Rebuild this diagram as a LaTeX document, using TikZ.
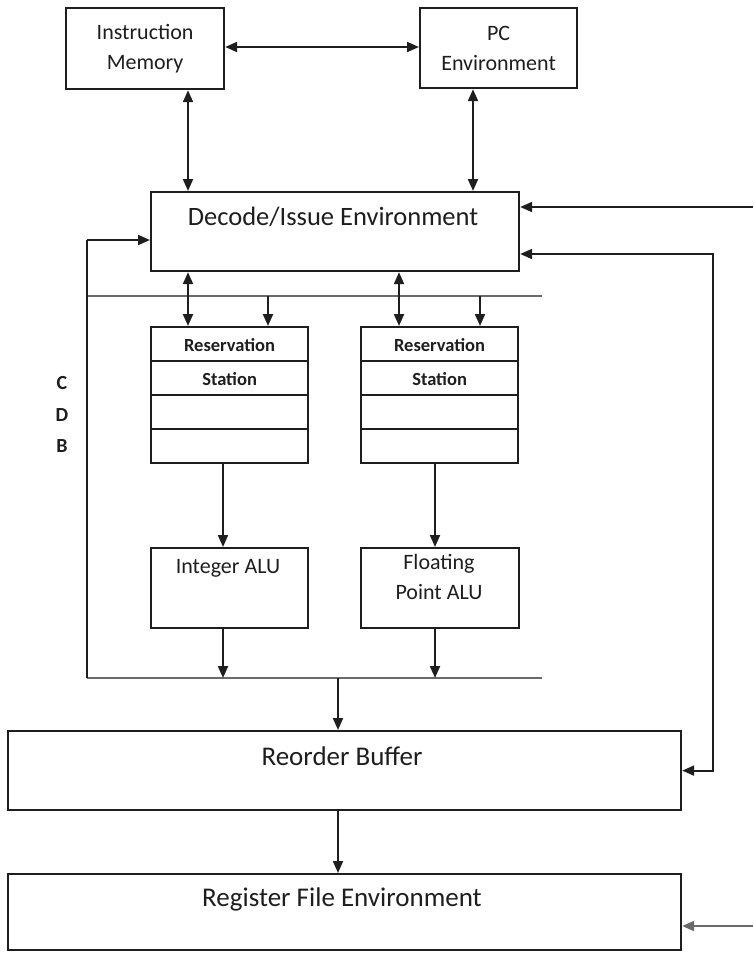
\documentclass[tikz,border=0pt]{standalone}
\usepackage{fontspec}
\setmainfont{Carlito}
\usetikzlibrary{arrows.meta}

\definecolor{ink}{HTML}{1E1E1E}
\definecolor{busgray}{HTML}{6A6A6A}

\tikzset{
  x=1pt, y=-1pt,
  box/.style={draw=ink, line width=2.2pt, rectangle, inner sep=0pt, anchor=north west},
  lbl/.style={text=ink, align=center, inner sep=0pt},
  arr/.style={draw=ink, line width=2pt, -{Triangle[length=12pt,width=10pt]}},
  darr/.style={draw=ink, line width=2pt, {Triangle[length=12pt,width=10pt]}-{Triangle[length=12pt,width=10pt]}},
  bus/.style={draw=busgray, line width=2.8pt},
  smallf/.style={font=\fontsize{22}{30}\selectfont},
  bigf/.style={font=\fontsize{27}{32}\selectfont},
  rsf/.style={font=\bfseries\fontsize{18.5}{22}\selectfont},
  cdbf/.style={font=\bfseries\fontsize{20}{24}\selectfont},
}

\begin{document}
\begin{tikzpicture}
\useasboundingbox[fill=white] (0,0) rectangle (753,953);

% top row
\node[box, minimum width=158pt, minimum height=81pt, lbl, smallf] (im) at (65,7) {Instruction\\Memory};
\node[box, minimum width=157pt, minimum height=80pt, lbl, smallf] (pc) at (419,7) {PC\\Environment};

% decode / issue
\node[box, minimum width=368pt, minimum height=79pt] (dec) at (150,191) {};
\node[lbl, font=\fontsize{26.5}{30}\selectfont] (dect) at (333,217) {Decode/Issue Environment};

% reservation stations (four rows each)
\foreach \n/\x in {a/150, b/360}{
  \node[box, minimum width=157pt, minimum height=34pt] (rs\n1) at (\x,326) {};
  \node[box, minimum width=157pt, minimum height=34pt] (rs\n2) at (\x,360) {};
  \node[box, minimum width=157pt, minimum height=34pt] (rs\n3) at (\x,394) {};
  \node[box, minimum width=157pt, minimum height=34pt] (rs\n4) at (\x,428) {};
}
\node[lbl, rsf] (rsa1t) at ([yshift=-1pt]rsa1.center) {Reservation};
\node[lbl, rsf] (rsa2t) at ([yshift=-1pt]rsa2.center) {Station};
\node[lbl, rsf] (rsb1t) at ([yshift=-1pt]rsb1.center) {Reservation};
\node[lbl, rsf] (rsb2t) at ([yshift=-1pt]rsb2.center) {Station};

% execution units
\node[box, minimum width=157pt, minimum height=80pt] (ialu) at (150,547) {};
\node[lbl, smallf] (ialut) at (228,568) {Integer ALU};
\node[box, minimum width=158pt, minimum height=80pt] (falu) at (360,547) {};
\node[lbl, smallf, anchor=north] (falut) at (439,554) {Floating\\Point ALU};

% reorder buffer and register file
\node[box, minimum width=673pt, minimum height=79pt] (rob) at (7,730) {};
\node[lbl, bigf] (robt) at (342,756) {Reorder Buffer};
\node[box, minimum width=673pt, minimum height=76pt] (rf) at (7,873) {};
\node[lbl, bigf] (rft) at (342,899) {Register File Environment};

% CDB label
\node[lbl, cdbf] (cc) at (62,383) {C};
\node[lbl, cdbf] (cd) at (62,415) {D};
\node[lbl, cdbf] (cb) at (62,446) {B};

% bus coordinates
\coordinate (tbl) at (87,296);
\coordinate (tbr) at (542,296);
\coordinate (bbl) at (87,678);
\coordinate (bbr) at (542,678);
\coordinate (cdbtop) at (87,240);
\coordinate (rt) at (713,254);
\coordinate (rin1) at (753,207);
\coordinate (rin2) at (753,926);

% buses
\draw[bus] (tbl) -- (tbr);
\draw[bus] (bbl) -- (bbr);

% top connections
\draw[darr] (im.east |- 0,47) -- (pc.west |- 0,47);
\draw[darr] (im.south -| 188,0) -- (dec.north -| 188,0);
\draw[darr] (pc.south -| 473,0) -- (dec.north -| 473,0);

% decode <-> reservation stations
\draw[darr] (dec.south -| 188,0) -- (rsa1.north -| 188,0);
\draw[arr] (tbl -| 268,0) -- (rsa1.north -| 268,0);
\draw[darr] (dec.south -| 399,0) -- (rsb1.north -| 399,0);
\draw[arr] (tbl -| 480,0) -- (rsb1.north -| 480,0);

% stations to units
\draw[arr] (rsa4.south -| 223,0) -- (ialu.north -| 223,0);
\draw[arr] (rsb4.south -| 435,0) -- (falu.north -| 435,0);

% units to common data bus
\draw[arr] (ialu.south -| 223,0) -- (bbl -| 223,0);
\draw[arr] (falu.south -| 435,0) -- (bbl -| 435,0);

% common data bus back to decode
\draw[draw=ink, line width=2pt] (bbl) -- (cdbtop);
\draw[arr] (cdbtop) -- (dec.west |- cdbtop);

% bus to reorder buffer, reorder buffer to register file
\draw[arr] (bbl -| 338,0) -- (rob.north -| 338,0);
\draw[arr] (rob.south -| 338,0) -- (rf.north -| 338,0);

% right side feeds
\draw[arr] (rin1) -- (dec.east |- rin1);
\draw[darr] (dec.east |- rt) -- (rt) |- (rob.east);
\draw[arr, draw=busgray] (rin2) -- (rf.east |- rin2);
\end{tikzpicture}
\end{document}
